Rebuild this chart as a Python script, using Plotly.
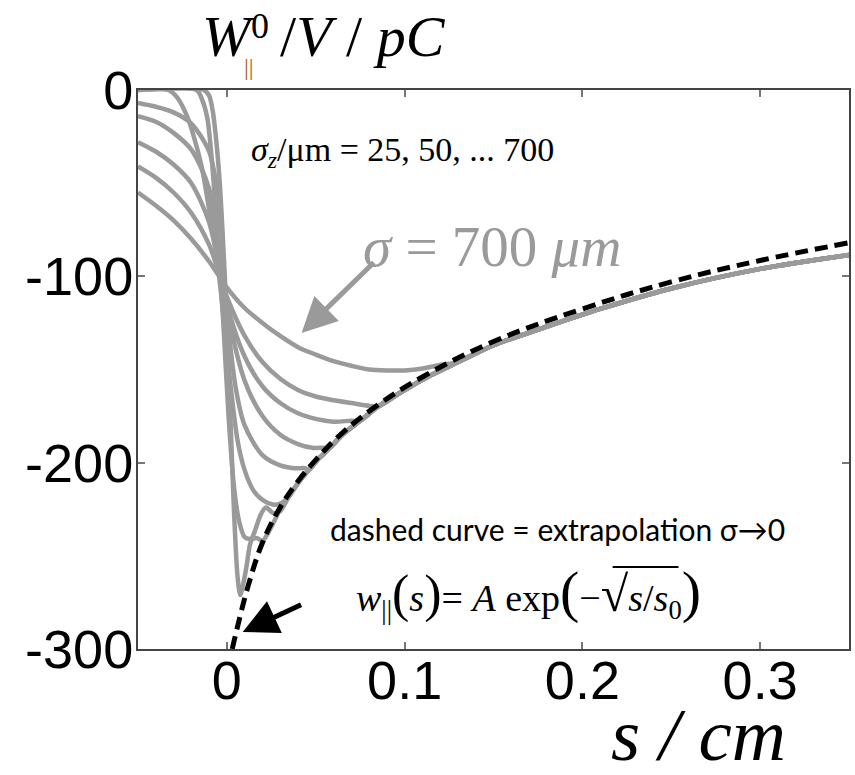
import plotly.graph_objects as go

# ---------------- data ----------------
x_ticks = [0, 0.1, 0.2, 0.3]
x_tick_labels = ["0", "0.1", "0.2", "0.3"]
y_ticks = [0, -100, -200, -300]
y_tick_labels = ["0", "-100", "-200", "-300"]

# dashed extrapolation curve (sigma -> 0)
dash_s = [0.003, 0.006, 0.012, 0.02, 0.03, 0.04, 0.05, 0.065, 0.085, 0.11, 0.15, 0.2, 0.25, 0.3, 0.35]
dash_w = [-300, -288, -266, -243, -224, -210, -198.5, -184, -169, -154, -135, -117.5, -103, -91.5, -82]

# common grey envelope that all wake curves merge into
env_s = [0.012, 0.016, 0.02, 0.025, 0.03, 0.035, 0.04, 0.046, 0.052, 0.058, 0.065, 0.075,
         0.085, 0.1, 0.115, 0.13, 0.15, 0.18, 0.21, 0.25, 0.30, 0.35]
env_w = [-267, -255.5, -244, -234.5, -225, -218, -211, -204, -197.5, -192, -185, -177.5,
         -170, -161, -153, -146, -137, -127, -117.5, -106.5, -96, -88.5]

# individual wake curves, sigma_z in um (part before merging into the envelope)
s700 = [-0.05, -0.04, -0.03, -0.02, -0.01, 0.0, 0.01, 0.02, 0.03, 0.04, 0.05, 0.06, 0.07, 0.08, 0.09, 0.10, 0.11, 0.12]
w700 = [-55, -62, -70, -80, -92, -106, -117, -125, -132, -138, -142, -145.5, -148, -150, -150.5, -150.5, -149.5, -147.5]

s500 = [-0.05, -0.04, -0.03, -0.02, -0.01, 0.0, 0.01, 0.02, 0.03, 0.04, 0.05, 0.06, 0.07, 0.08]
w500 = [-41, -47, -55, -66, -83, -111, -132, -146, -155, -161, -164.5, -166.5, -168, -169.5]

s400 = [-0.05, -0.04, -0.03, -0.02, -0.01, 0.0, 0.01, 0.02, 0.03, 0.04, 0.05, 0.06, 0.07]
w400 = [-28, -33, -40, -50, -71, -115, -143, -159, -168, -173.5, -176.5, -178, -177.5]

s300 = [-0.05, -0.04, -0.03, -0.02, -0.01, 0.0, 0.01, 0.02, 0.03, 0.04, 0.048, 0.054]
w300 = [-14, -17, -23, -32, -53, -117, -156, -175, -185, -190, -192, -192]

s200 = [-0.05, -0.04, -0.03, -0.02, -0.01, -0.005, 0.0, 0.005, 0.01, 0.02, 0.03, 0.038, 0.044]
w200 = [-7, -9, -12, -18, -33, -57, -119, -160, -180, -196, -201.5, -203, -203]

s100 = [-0.05, -0.033, -0.028, -0.022, -0.018, -0.014, -0.01, -0.006, -0.002, 0.002, 0.006, 0.01, 0.015, 0.02, 0.026, 0.03]
w100 = [0, 0, -4, -15, -27, -42, -64, -88, -120, -158, -188, -204, -215, -220, -222.5, -222]

s50 = [-0.05, -0.017, -0.014, -0.011, -0.008, -0.005, -0.002, 0.001, 0.004, 0.007, 0.01, 0.013, 0.017, 0.02]
w50 = [0, 0, -5, -15, -43, -83, -125, -176, -213, -232, -240, -241, -240.5, -242]

s25 = [-0.05, -0.013, -0.01, -0.008, -0.006, -0.004, -0.002, 0.0, 0.002, 0.004, 0.006, 0.0075, 0.009,
       0.011, 0.013, 0.016, 0.019, 0.022, 0.026, 0.03]
w25 = [0, 0, -3, -11, -27, -50, -84, -124, -176, -226, -261, -271, -266, -256, -244, -236, -228, -224, -227, -226]

curves = [(s700, w700), (s500, w500), (s400, w400), (s300, w300),
          (s200, w200), (s100, w100), (s50, w50), (s25, w25)]

GREY = "#9a9a9a"

fig = go.Figure()
for s_head, w_head in curves:
    last = s_head[-1]
    xs = list(s_head) + [s for s in env_s if s > last + 1e-9]
    ys = list(w_head) + [w for s, w in zip(env_s, env_w) if s > last + 1e-9]
    fig.add_trace(go.Scatter(x=xs, y=ys, mode="lines",
                             line=dict(color=GREY, width=4.5, shape="spline", smoothing=0.8),
                             hoverinfo="skip", showlegend=False))

fig.add_trace(go.Scatter(x=dash_s, y=dash_w, mode="lines",
                         line=dict(color="black", width=5, dash="13px,7px", shape="spline", smoothing=1.1),
                         hoverinfo="skip", showlegend=False))

SERIF = "Liberation Serif, Times New Roman, serif"
SANS = "Liberation Sans, Arial, sans-serif"

# paper-pixel helpers for placing text outside/inside the frame
L, R, T, B = 138, 851, 90, 649
def xp(px):
    return (px - L) / (R - L)
def yp(py):
    return (B - py) / (B - T)

ann = []
# axis titles
ann.append(dict(xref="paper", yref="paper", x=xp(200), y=yp(37), xanchor="left", yanchor="middle",
                text="<i>W</i>", font=dict(family=SERIF, size=58, color="black"), showarrow=False))
ann.append(dict(xref="paper", yref="paper", x=xp(249), y=yp(26), xanchor="left", yanchor="middle",
                text="0", font=dict(family=SERIF, size=36, color="black"), showarrow=False))
ann.append(dict(xref="paper", yref="paper", x=xp(242), y=yp(67), xanchor="left", yanchor="middle",
                text="||", font=dict(family=SERIF, size=24, color="#b06020"), showarrow=False))
ann.append(dict(xref="paper", yref="paper", x=xp(278), y=yp(37), xanchor="left", yanchor="middle",
                text="/<i>V</i> / <i>pC</i>", font=dict(family=SERIF, size=58, color="black"), showarrow=False))
ann.append(dict(xref="paper", yref="paper", x=xp(610), y=yp(735), xanchor="left", yanchor="middle",
                text="<i>s / cm</i>", font=dict(family=SERIF, size=75, color="black"), showarrow=False))

# sigma_z list
ann.append(dict(xref="paper", yref="paper", x=xp(249), y=yp(152), xanchor="left", yanchor="middle",
                text="<i>σ</i><sub><i>z</i></sub>/μm = 25, 50, ... 700",
                font=dict(family=SERIF, size=34, color="black"), showarrow=False))
# sigma = 700 um
ann.append(dict(xref="paper", yref="paper", x=xp(362), y=yp(247), xanchor="left", yanchor="middle",
                text="<i>σ</i> = 700 <i>μm</i>", font=dict(family=SERIF, size=57, color=GREY), showarrow=False))
# grey arrow
ann.append(dict(xref="x domain", yref="y domain", x=xp(302), y=yp(333), ax=xp(376), ay=yp(261),
                axref="x domain", ayref="y domain", text="", showarrow=True,
                arrowhead=2, arrowsize=1.4, arrowwidth=5, arrowcolor=GREY))
# dashed curve note
ann.append(dict(xref="paper", yref="paper", x=xp(329), y=yp(529), xanchor="left", yanchor="middle",
                text="dashed curve = extrapolation σ→0",
                font=dict(family="Lato, Open Sans, sans-serif", size=30, color="black"), showarrow=False))
# formula
ann.append(dict(xref="paper", yref="paper", x=xp(355), y=yp(592), xanchor="left", yanchor="middle",
                text="<i>w</i><sub>||</sub><span style='font-size:52px'>(</span><i>s</i><span style='font-size:52px'>)</span>"
                     "= <i>A</i> exp<span style='font-size:58px'>(</span>−<span style='font-size:50px'>√</span>"
                     "<i>s</i>/<i>s</i><sub>0</sub><span style='font-size:58px'>)</span>",
                font=dict(family=SERIF, size=38, color="black"), showarrow=False))
# black arrow
ann.append(dict(xref="x domain", yref="y domain", x=xp(243), y=yp(632), ax=xp(303), ay=yp(604),
                axref="x domain", ayref="y domain", text="", showarrow=True,
                arrowhead=2, arrowsize=1.4, arrowwidth=5, arrowcolor="black"))

# radical bar over s/s0
shapes = [dict(type="line", xref="paper", yref="paper", x0=xp(614), x1=xp(680), y0=yp(567), y1=yp(567),
               line=dict(color="black", width=2))]

fig.update_layout(
    width=855, height=775,
    margin=dict(l=L, r=855 - R, t=T, b=775 - B),
    paper_bgcolor="white", plot_bgcolor="white",
    annotations=ann, shapes=shapes,
    showlegend=False,
)
fig.update_xaxes(range=[-0.05, 0.35], tickvals=x_ticks, ticktext=x_tick_labels,
                 showgrid=False, zeroline=False, showline=True, linecolor="#444", linewidth=2,
                 mirror="ticks", ticks="inside", ticklen=7, tickwidth=1.5, tickcolor="#777",
                 ticklabelstandoff=-17,
                 tickfont=dict(family=SANS, size=54, color="black"))
fig.update_yaxes(range=[-300, 0], tickvals=y_ticks, ticktext=y_tick_labels,
                 showgrid=False, zeroline=False, showline=True, linecolor="#444", linewidth=2,
                 mirror="ticks", ticks="inside", ticklen=7, tickwidth=1.5, tickcolor="#777",
                 ticklabelstandoff=-8,
                 tickfont=dict(family=SANS, size=54, color="black"))

fig.write_html("out.html")
